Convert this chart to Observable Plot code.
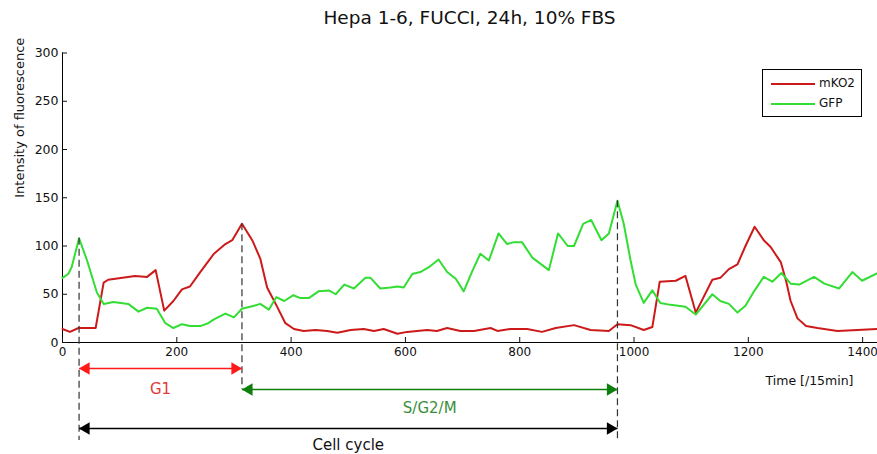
<!DOCTYPE html>
<html>
<head>
<meta charset="utf-8">
<script src="https://cdn.jsdelivr.net/npm/d3@7"></script>
<script src="https://cdn.jsdelivr.net/npm/@observablehq/plot@0.6"></script>
<style>
  body { margin: 0; background: #fff; font-family: "DejaVu Sans", sans-serif; }
  #wrap { position: relative; width: 877px; height: 454px; overflow: hidden; }
  #title { height: 36px; line-height: 36px; padding-left: 62px; text-align: center; font-size: 18.5px; color: #111; }
  #legend { position: absolute; left: 762px; top: 69px; width: 100px; height: 48px; border: 1px solid #000; background: #fff; box-sizing: border-box; font-size: 12px; color: #111; }
  #legend .row { position: absolute; left: 0; height: 14px; width: 100%; }
  #legend .ln { position: absolute; left: 8px; width: 44px; top: 6px; height: 0; border-top: 2px solid; }
  #legend .lb { position: absolute; left: 56px; top: -1px; }
</style>
</head>
<body>
<div id="wrap">
  <div id="title"></div>
  <div id="chart"></div>
  <div id="legend"></div>
</div>
<script>
// ---- data ----
const chartTitle = "Hepa 1-6, FUCCI, 24h, 10% FBS";
const seriesNames = ["mKO2", "GFP"];
const seriesColors = ["#cc1a1a", "#33dd33"];

const redT = [0,13,28,58,72,80,127,148,163,178,194,209,223,241,255,265,285,297,314,332,346,358,373,390,405,422,443,463,481,504,527,545,562,586,603,638,655,673,696,720,749,761,784,813,839,863,895,924,956,971,994,1017,1032,1045,1073,1090,1108,1137,1151,1166,1181,1195,1211,1227,1239,1257,1266,1274,1286,1301,1321,1356,1391,1426];
const redV = [14,11,15,15,62,65,69,68,75,33,43,55,58,73,84,92,102,106,123,106,87,57,40,20,14,12,13,12,10,13,14,12,14,9,11,13,12,15,12,12,15,12,14,14,11,15,18,13,12,19,18,13,16,63,64,69,31,65,67,76,81,100,120,106,99,83,64,43,25,17,15,12,13,14];

const greenT = [0,10,16,29,43,60,72,89,115,133,148,165,180,194,209,223,241,255,265,285,300,314,335,346,361,374,388,404,416,431,448,466,478,493,510,530,539,556,574,586,597,612,626,641,658,673,688,702,717,731,746,763,778,790,804,822,851,867,884,895,911,925,943,956,971,982,994,1003,1017,1032,1046,1064,1090,1108,1137,1151,1166,1181,1195,1210,1227,1242,1258,1274,1289,1315,1333,1359,1382,1399,1426];
const greenV = [67,71,78,108,85,52,40,42,40,32,36,35,20,15,19,17,17,20,24,30,26,35,38,40,34,47,43,49,46,46,53,54,50,60,56,67,67,56,57,58,57,71,73,78,86,73,66,53,74,92,85,113,102,104,104,88,75,113,100,100,123,127,106,113,147,123,85,60,41,54,41,39,37,29,50,43,40,31,38,53,68,63,72,61,60,68,61,56,73,64,72];

const xTicks = [0, 200, 400, 600, 800, 1000, 1200, 1400];
const yTicks = [0, 50, 100, 150, 200, 250, 300];
const xLabel = "Time [/15min]";
const yLabel = "Intensity of fluorescence";

// phase boundaries (time) and which series peaks there
const boundaryT = [29, 314, 971];
const boundarySeries = ["green", "red", "green"];
const phaseLabels = ["G1", "S/G2/M", "Cell cycle"];
const phaseStart = [29, 314, 29];
const phaseEnd = [314, 971, 971];

// ---- layout / style ----
const W = 877, H = 418;
const dashExtend = [98, 47, 98];         // px below the x axis
const arrowOffset = [26, 47, 86];        // px below the x axis
const labelOffset = [47, 66, 103];
const arrowColors = ["#ff1a1a", "#0c7f0c", "#000000"];
const labelColors = ["#e23a3a", "#3a8f3a", "#111111"];

document.getElementById("title").textContent = chartTitle;

const red = redT.map((t, i) => [t, redV[i]]);
const green = greenT.map((t, i) => [t, greenV[i]]);
const peak = (s, t) => s === "red" ? redV[redT.indexOf(t)] : greenV[greenT.indexOf(t)];
const plain = d => String(d);

const marks = [
  Plot.ruleY([0], {stroke: "#000"}),
  Plot.ruleX([0], {stroke: "#000"}),
  Plot.axisX({ticks: xTicks, tickSize: 5, dy: -5, tickFormat: () => "", label: null}),
  Plot.axisX({ticks: xTicks, tickSize: 0, tickPadding: 5, tickFormat: plain, label: null, fontSize: 12}),
  Plot.axisY({ticks: yTicks, tickSize: 5, dx: 5, tickFormat: () => "", label: null}),
  Plot.axisY({ticks: yTicks, tickSize: 0, tickPadding: 4, tickFormat: plain, label: null, fontSize: 12.5}),
  Plot.text([yLabel], {frameAnchor: "left", rotate: -90, dx: -43, text: d => d, fontSize: 13, fill: "#111"}),
  Plot.text([xLabel], {frameAnchor: "bottom-right", textAnchor: "end", dx: -24, dy: 42, text: d => d, fontSize: 12.5, fill: "#111"}),
  Plot.line(red, {stroke: seriesColors[0], strokeWidth: 2}),
  Plot.line(green, {stroke: seriesColors[1], strokeWidth: 2}),
];

boundaryT.forEach((t, i) => {
  marks.push(Plot.ruleX([t], {x: d => d, y1: peak(boundarySeries[i], t), y2: 0, insetBottom: -dashExtend[i],
    stroke: "#333", strokeWidth: 1.2, strokeDasharray: "7,4"}));
});

phaseLabels.forEach((lab, i) => {
  const a = phaseStart[i], b = phaseEnd[i], c = arrowColors[i];
  marks.push(
    Plot.link([lab], {x1: a, x2: b, y1: 0, y2: 0, dy: arrowOffset[i], stroke: c, strokeWidth: 1.6}),
    Plot.dot([lab], {x: a, y: 0, dx: 7, dy: arrowOffset[i], symbol: "triangle", rotate: -90, r: 4.6, fill: c, stroke: "none"}),
    Plot.dot([lab], {x: b, y: 0, dx: -7, dy: arrowOffset[i], symbol: "triangle", rotate: 90, r: 4.6, fill: c, stroke: "none"}),
    Plot.text([lab], {x: (a + b) / 2, y: 0, dy: labelOffset[i], text: d => d, fill: labelColors[i], fontSize: 15})
  );
});

const chart = Plot.plot({
  width: W,
  height: H,
  marginTop: 16.5,
  marginBottom: 112,
  marginLeft: 62,
  marginRight: 0,
  style: {fontFamily: "DejaVu Sans, sans-serif", fontSize: "12.5px", color: "#111", background: "#fff", overflow: "visible"},
  x: {domain: [0, 1426], label: null},
  y: {domain: [0, 300], label: null},
  marks
});
document.getElementById("chart").appendChild(chart);

// legend
const lg = document.getElementById("legend");
seriesNames.forEach((n, i) => {
  const row = document.createElement("div");
  row.className = "row";
  row.style.top = (7 + i * 20) + "px";
  row.innerHTML = `<div class="ln" style="border-color:${seriesColors[i]}"></div><div class="lb">${n}</div>`;
  lg.appendChild(row);
});
</script>
</body>
</html>
